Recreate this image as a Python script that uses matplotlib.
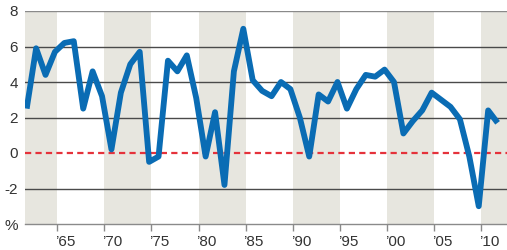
import numpy as np
import matplotlib
matplotlib.use('Agg')
import matplotlib.pyplot as plt
from matplotlib.transforms import ScaledTranslation

# annual growth, %
years = np.arange(1961, 2012)
growth = [2.5, 5.9, 4.4, 5.7, 6.2, 6.3, 2.5, 4.6, 3.2, 0.2,
          3.4, 5.0, 5.7, -0.5, -0.2, 5.2, 4.6, 5.5, 3.1, -0.2,
          2.3, -1.8, 4.6, 7.0, 4.1, 3.5, 3.2, 4.0, 3.6, 2.0,
          -0.2, 3.3, 2.9, 4.0, 2.5, 3.6, 4.4, 4.3, 4.7, 4.0,
          1.1, 1.8, 2.4, 3.4, 3.0, 2.6, 1.9, -0.2, -3.0, 2.4,
          1.7]

band_starts = [1960, 1970, 1980, 1990, 2000, 2010]
tick_years = [1965, 1970, 1975, 1980, 1985, 1990, 1995, 2000, 2005, 2010]
tick_labels = ['\u201965', '\u201970', '\u201975', '\u201980', '\u201985',
               '\u201990', '\u201995', '\u201900', '\u201905', '\u201910']
y_ticks = [-4, -2, 0, 2, 4, 6, 8]
y_labels = ['%', '-2', '0', '2', '4', '6', '8']

plt.rcParams['font.family'] = ['Liberation Sans', 'DejaVu Sans']

fig = plt.figure(figsize=(5.07, 2.5), dpi=100)
ax = fig.add_axes([25 / 507, 26 / 250, 482 / 507, 213 / 250])

x0, x1 = 1961.57, 2012.75
ax.set_xlim(x0, x1)
ax.set_ylim(-4, 8)

# shaded half-decades
for b in band_starts:
    ax.axvspan(b, b + 5, color='#e7e6df', lw=0, zorder=0)

# horizontal rules
for v in [2, 4, 6, -2]:
    ax.axhline(v, color='#4a4a4a', lw=1.0, zorder=1)
ax.axhline(8, color='#8a8a8a', lw=1.0, zorder=1)
ax.axhline(0, color='#e5323b', lw=1.6, linestyle=(0, (2.8, 1.9)), zorder=2)

ax.plot(years + 0.75, growth, color='#0a6cb4', lw=4.2,
        solid_joinstyle='round', solid_capstyle='butt', zorder=3)

for s in ['top', 'right', 'left']:
    ax.spines[s].set_visible(False)
ax.spines['bottom'].set_color('#8a8a8a')
ax.spines['bottom'].set_linewidth(1.0)

ax.set_yticks(y_ticks)
ax.set_yticklabels(y_labels)
ax.tick_params(axis='y', length=0, pad=5, labelsize=11, labelcolor='#333333')

ax.set_xticks(tick_years)
ax.set_xticklabels(tick_labels)
ax.tick_params(axis='x', length=5, width=1, color='#8a8a8a', pad=3,
               labelsize=11, labelcolor='#333333')
shift = ScaledTranslation(8 / 100, 0, fig.dpi_scale_trans)
for lab in ax.get_xticklabels():
    lab.set_transform(lab.get_transform() + shift)

fig.savefig('out.png', dpi=100)
